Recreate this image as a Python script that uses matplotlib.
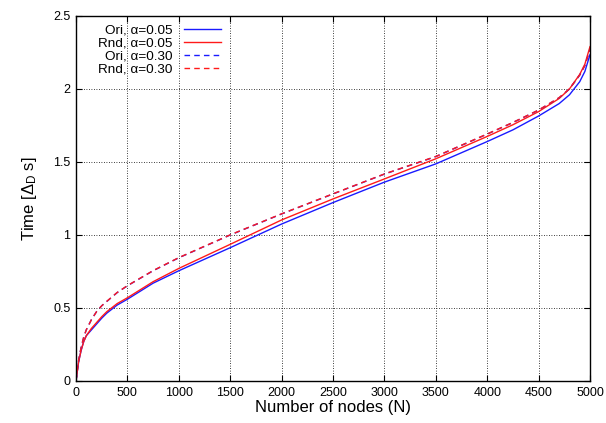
import numpy as np
import matplotlib
matplotlib.use("Agg")
import matplotlib.pyplot as plt

# ─── STYLE ────────────────────────────────────────────────────────────────
plt.rcParams.update({
    "font.family": "Liberation Sans",
    "mathtext.fontset": "custom",
    "mathtext.rm": "Liberation Sans",
    "mathtext.it": "Liberation Sans:italic",
    "font.size": 9,
    "xtick.direction": "in",
    "ytick.direction": "in",
    "xtick.top": True,
    "ytick.right": True,
})

# ─── DATA ────────────────────────────────────────────────────────────────
nodes = [0, 25, 50, 75, 100, 150, 200, 250, 300, 400, 500, 750, 1000, 1500,
         2000, 2500, 3000, 3500, 4000, 4250, 4500, 4700, 4800, 4900, 4950, 5000]

ori_005 = [0, 0.13, 0.21, 0.27, 0.31, 0.35, 0.39, 0.43, 0.465, 0.52, 0.56,
           0.67, 0.755, 0.913, 1.075, 1.222, 1.362, 1.487, 1.64, 1.72, 1.815,
           1.90, 1.96, 2.05, 2.12, 2.235]
rnd_005 = [0, 0.13, 0.21, 0.27, 0.31, 0.36, 0.40, 0.44, 0.475, 0.53, 0.57,
           0.68, 0.771, 0.936, 1.103, 1.247, 1.384, 1.522, 1.675, 1.755, 1.845,
           1.935, 2.0, 2.10, 2.17, 2.29]
ori_030 = [0, 0.14, 0.23, 0.30, 0.35, 0.42, 0.475, 0.515, 0.545, 0.605, 0.652,
           0.755, 0.844, 1.0, 1.144, 1.281, 1.417, 1.537, 1.691, 1.77, 1.855,
           1.94, 2.0, 2.095, 2.16, 2.27]
rnd_030 = [0, 0.14, 0.23, 0.30, 0.35, 0.42, 0.475, 0.515, 0.546, 0.606, 0.653,
           0.756, 0.845, 1.001, 1.145, 1.282, 1.418, 1.538, 1.692, 1.771, 1.856,
           1.941, 2.001, 2.096, 2.161, 2.272]

series = [
    ("Ori, \u03b1=0.05", ori_005, "#1a1aff", "-"),
    ("Rnd, \u03b1=0.05", rnd_005, "#ff1a1a", "-"),
    ("Ori, \u03b1=0.30", ori_030, "#1a1aff", (0, (4, 3))),
    ("Rnd, \u03b1=0.30", rnd_030, "#ff1a1a", (0, (4, 3))),
]

# ─── PLOT ─────────────────────────────────────────────────────────────────
fig = plt.figure(figsize=(6.06, 4.23), dpi=100)
ax = fig.add_axes([0.1254, 0.0993, 0.8482, 0.8629])

for label, vals, color, ls in series:
    ax.plot(nodes, vals, color=color, linestyle=ls, linewidth=1.0, label=label)

ax.set_xlim(0, 5000)
ax.set_ylim(0, 2.5)
ax.set_xticks(np.arange(0, 5001, 500))
ax.set_yticks([0, 0.5, 1, 1.5, 2, 2.5])
ax.set_yticklabels(["0", "0.5", "1", "1.5", "2", "2.5"])
ax.tick_params(length=4, width=0.8, labelsize=9, pad=4)
ax.grid(True, color="black", linestyle=(0, (1, 2)), linewidth=0.6)
for sp in ax.spines.values():
    sp.set_linewidth(1.0)

ax.set_xlabel("Number of nodes (N)", fontsize=12, labelpad=1)
ax.set_ylabel(r"Time [$\Delta_{\mathrm{D}}$ s]", fontsize=12, labelpad=10)

leg = ax.legend(loc="upper left", bbox_to_anchor=(0.025, 1.003), frameon=False,
                markerfirst=False, handlelength=2.8, handletextpad=0.8,
                labelspacing=0.03, fontsize=9.7, borderaxespad=0.3)
for t in leg.get_texts():
    t.set_ha("right")

fig.savefig("out.png", dpi=100)
